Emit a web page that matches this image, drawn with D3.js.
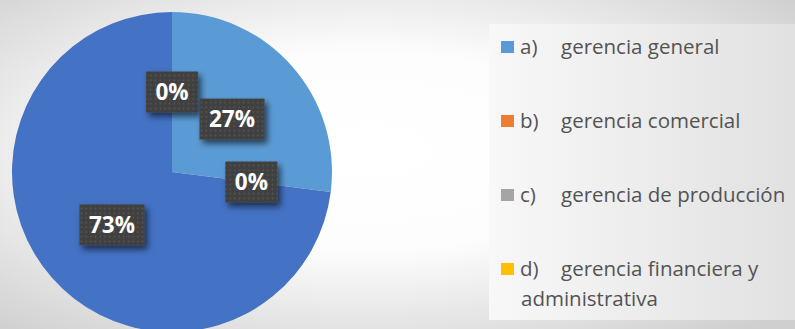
<!DOCTYPE html>
<html>
<head>
<meta charset="utf-8">
<script src="https://cdn.jsdelivr.net/npm/d3@7"></script>
<style>
  html, body { margin: 0; padding: 0; background: #fff; }
  svg { display: block; }
</style>
</head>
<body>
<svg id="chart" width="795" height="329"></svg>
<script>
// Legend entries: letter and description (the description of d wraps onto two lines)
const legendKeys = ["a)", "b)", "c)", "d)"];
const legendLines = [
  ["gerencia general"],
  ["gerencia comercial"],
  ["gerencia de producción"],
  ["gerencia financiera y", "administrativa"]
];
const legendColors = ["#5B9BD5", "#ED7D31", "#A5A5A5", "#FFC000"];

// Pie points in drawing order (clockwise from 12 o'clock), with their percentages
const sliceValues = [0, 27, 0, 73];
const sliceColors = ["#A5A5A5", "#5B9BD5", "#ED7D31", "#4472C4"];
const sliceLabels = ["0%", "27%", "0%", "73%"];

const W = 795, H = 329;
const svg = d3.select("#chart");
const defs = svg.append("defs");

// Soft radial background
const bg = defs.append("radialGradient").attr("id", "bg")
  .attr("cx", "46%").attr("cy", "46%").attr("r", "72%");
bg.append("stop").attr("offset", "0").attr("stop-color", "#ffffff");
bg.append("stop").attr("offset", "0.42").attr("stop-color", "#fdfdfd");
bg.append("stop").attr("offset", "1").attr("stop-color", "#cfcfcf");

// Legend panel gradient
const lg = defs.append("linearGradient").attr("id", "legendBg")
  .attr("x1", "0").attr("x2", "1").attr("y1", "0").attr("y2", "0");
lg.append("stop").attr("offset", "0").attr("stop-color", "#f8f8f8");
lg.append("stop").attr("offset", "1").attr("stop-color", "#e1e1e1");

// Dotted texture for the data label boxes
const pat = defs.append("pattern").attr("id", "dots")
  .attr("patternUnits", "userSpaceOnUse").attr("width", 4.7).attr("height", 4.7);
pat.append("rect").attr("width", 4.7).attr("height", 4.7).attr("fill", "#404040");
pat.append("circle").attr("cx", 2.35).attr("cy", 2.35).attr("r", 0.85).attr("fill", "#585858");

// Drop shadow for label boxes
const sh = defs.append("filter").attr("id", "shadow")
  .attr("x", "-30%").attr("y", "-30%").attr("width", "170%").attr("height", "180%");
sh.append("feDropShadow").attr("dx", 3).attr("dy", 4).attr("stdDeviation", 3)
  .attr("flood-color", "#000").attr("flood-opacity", 0.6);

svg.append("rect").attr("width", W).attr("height", H).attr("fill", "url(#bg)");

// Pie
const cx = 172, cy = 172, R = 160;
const pie = d3.pie().sort(null).value(d => d)(sliceValues);
const arc = d3.arc().innerRadius(0).outerRadius(R);
const labelArc = d3.arc().innerRadius(R * 0.5).outerRadius(R * 0.5);

const g = svg.append("g").attr("transform", `translate(${cx},${cy})`);
g.selectAll("path.slice").data(pie).join("path")
  .attr("class", "slice")
  .attr("d", arc)
  .attr("fill", (d, i) => sliceColors[i]);

// Data labels: dark textured boxes with white bold percentages
const labels = g.selectAll("g.lbl").data(pie).join("g")
  .attr("class", "lbl")
  .attr("transform", d => {
    const [x, y] = labelArc.centroid(d);
    return `translate(${x},${y})`;
  });

labels.each(function(d, i) {
  const sel = d3.select(this);
  const box = sel.append("rect").attr("fill", "url(#dots)").attr("filter", "url(#shadow)");
  const t = sel.append("text")
    .attr("text-anchor", "middle")
    .attr("dy", "0.36em")
    .attr("fill", "#ffffff")
    .attr("font-family", "'Open Sans', sans-serif")
    .attr("font-weight", 700)
    .attr("font-size", 22.5)
    .text(sliceLabels[i]);
  const w = t.node().getComputedTextLength() + 19;
  const h = 41;
  box.attr("x", -w / 2).attr("y", -h / 2).attr("width", w).attr("height", h);
});

// Legend
svg.append("rect")
  .attr("x", 489).attr("y", 24).attr("width", W - 489).attr("height", 296)
  .attr("fill", "url(#legendBg)");

const itemY = d3.scalePoint().domain(legendKeys).range([54, 276]);
const leg = svg.append("g")
  .attr("font-family", "'Open Sans', sans-serif")
  .attr("font-size", 20.5)
  .attr("fill", "#535353");

legendKeys.forEach((k, i) => {
  const y = itemY(k);
  leg.append("rect")
    .attr("x", 501).attr("y", y - 13).attr("width", 13).attr("height", 12)
    .attr("fill", legendColors[i]);
  leg.append("text").attr("x", 520).attr("y", y).text(k);
  legendLines[i].forEach((line, j) => {
    leg.append("text")
      .attr("x", j === 0 ? 561 : 521)
      .attr("y", y + j * 30)
      .text(line);
  });
});
</script>
</body>
</html>
